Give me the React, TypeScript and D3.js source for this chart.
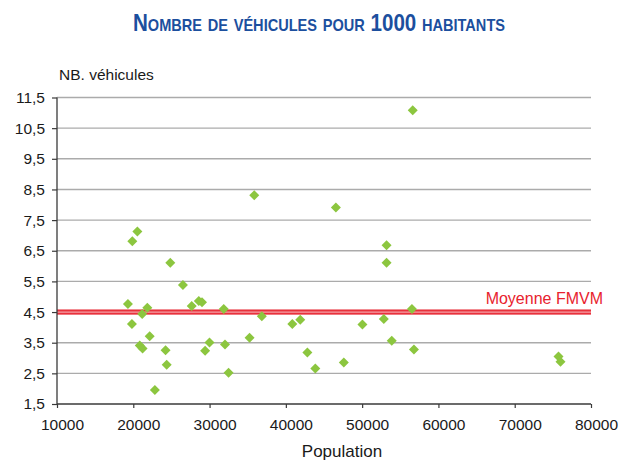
import { useEffect, useRef } from 'react';
import * as d3 from 'd3';

// population (x) / véhicules pour 1000 habitants (y)
const population = [
  20540, 19870, 24850, 35860, 46560, 53200, 53200, 56630,
  26510, 19300, 19820, 21170, 21840, 20850, 21220, 22150, 22830, 24230, 24380,
  27660, 28590, 29010, 29420, 29990, 31860, 32020, 32490, 35240, 36850,
  40850, 41890, 42820, 43860, 47600, 50040, 52840, 53880, 56530, 56790,
  75740, 76000,
];
const vehicules = [
  7.13, 6.81, 6.11, 8.31, 7.91, 6.68, 6.11, 11.08,
  5.38, 4.76, 4.11, 4.44, 4.64, 3.41, 3.31, 3.71, 1.96, 3.25, 2.78,
  4.70, 4.86, 4.82, 3.24, 3.51, 4.60, 3.44, 2.52, 3.66, 4.36,
  4.11, 4.25, 3.18, 2.66, 2.85, 4.09, 4.27, 3.56, 4.60, 3.28,
  3.05, 2.88,
];
const xTicks = [10000, 20000, 30000, 40000, 50000, 60000, 70000, 80000];
const yTicks = [1.5, 2.5, 3.5, 4.5, 5.5, 6.5, 7.5, 8.5, 9.5, 10.5, 11.5];
const moyenne = 4.5;

const title = 'Nombre de véhicules pour 1000 habitants';
const yLabel = 'NB. véhicules';
const xLabel = 'Population';
const moyenneLabel = 'Moyenne FMVM';

export default function App() {
  const svgRef = useRef<SVGSVGElement>(null);

  useEffect(() => {
    if (!svgRef.current) return;
    const width = 621;
    const height = 461;
    const font = "'Liberation Sans', Arial, sans-serif";

    const svg = d3.select(svgRef.current);
    svg.selectAll('*').remove();
    svg.attr('width', width).attr('height', height);

    const x = d3.scaleLinear().domain([10000, 80000]).range([57, 591]);
    const y = d3.scaleLinear().domain([1.5, 11.5]).range([404, 97.5]);

    // title (condensed bold small caps)
    svg.append('text')
      .attr('x', 319)
      .attr('y', 31)
      .attr('text-anchor', 'middle')
      .attr('font-family', font)
      .attr('font-weight', 'bold')
      .attr('font-size', 24)
      .attr('textLength', 372)
      .attr('lengthAdjust', 'spacingAndGlyphs')
      .style('font-variant', 'small-caps')
      .attr('fill', '#1c4f9e')
      .text(title);

    // horizontal grid
    svg.append('g')
      .selectAll('line')
      .data(yTicks.slice(1))
      .join('line')
      .attr('x1', x(10000))
      .attr('x2', x(80000))
      .attr('y1', d => y(d))
      .attr('y2', d => y(d))
      .attr('stroke', '#ababab')
      .attr('stroke-width', 1.4);

    // mean band
    const yMean = y(moyenne);
    svg.append('rect')
      .attr('x', x(10000))
      .attr('y', yMean - 2.6)
      .attr('width', x(80000) - x(10000))
      .attr('height', 5.2)
      .attr('fill', '#e8313c');
    svg.append('line')
      .attr('x1', x(10000))
      .attr('x2', x(80000))
      .attr('y1', yMean)
      .attr('y2', yMean)
      .attr('stroke', '#f4a1a6')
      .attr('stroke-width', 1.2);

    // axes
    const yAxis = svg.append('g')
      .attr('transform', `translate(${x(10000)},0)`)
      .call(d3.axisLeft(y).tickValues(yTicks).tickSize(5).tickPadding(7)
        .tickFormat(d => String(d).replace('.', ',')));
    const xAxis = svg.append('g')
      .attr('transform', `translate(0,${y(1.5)})`)
      .call(d3.axisBottom(x).tickValues(xTicks).tickSize(4).tickPadding(11)
        .tickFormat(d => String(d)));
    [yAxis, xAxis].forEach(g => {
      g.select('.domain').attr('stroke', '#3a3a3a').attr('stroke-width', 1.3);
      g.selectAll('.tick line').attr('stroke', '#3a3a3a').attr('stroke-width', 1.2);
      g.selectAll('.tick text')
        .attr('font-family', font)
        .attr('font-size', 15.5)
        .attr('fill', '#1a1a1a');
    });
    xAxis.select('.domain').attr('d', `M${x(10000)},0H${x(80000)}`);
    yAxis.select('.domain').attr('d', `M0,${y(11.5)}V${y(1.5)}`);
    xAxis.selectAll('.tick text').attr('dx', 5);

    // points
    svg.append('g')
      .selectAll('path')
      .data(population.map((p, i) => [p, vehicules[i]]))
      .join('path')
      .attr('d', d3.symbol(d3.symbolSquare, 50)())
      .attr('transform', d => `translate(${x(d[0])},${y(d[1])}) rotate(45)`)
      .attr('fill', '#8cc63f');

    // labels
    svg.append('text')
      .attr('x', 59)
      .attr('y', 80)
      .attr('font-family', font)
      .attr('font-size', 15.5)
      .attr('fill', '#1a1a1a')
      .text(yLabel);
    svg.append('text')
      .attr('x', 342)
      .attr('y', 457)
      .attr('text-anchor', 'middle')
      .attr('font-family', font)
      .attr('font-size', 17)
      .attr('fill', '#1a1a1a')
      .text(xLabel);
    svg.append('text')
      .attr('x', 603)
      .attr('y', 304)
      .attr('text-anchor', 'end')
      .attr('font-family', font)
      .attr('font-size', 16)
      .attr('fill', '#e8222e')
      .text(moyenneLabel);
  }, []);

  return (
    <svg ref={svgRef} style={{ position: 'absolute', left: 0, top: 0, background: '#fff' }}></svg>
  );
}
